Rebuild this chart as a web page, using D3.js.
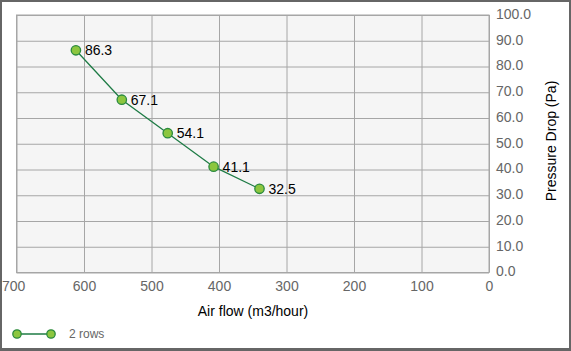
<!DOCTYPE html>
<html><head><meta charset="utf-8">
<script src="https://cdn.jsdelivr.net/npm/d3@7"></script>
<style>body{margin:0;background:#fff}svg{display:block;font-family:Arial,"Liberation Sans",sans-serif}</style>
</head><body><svg id="c" width="571" height="351"></svg>
<script>
const airFlow = [612, 544, 476, 408, 340];
const pressureDrop = [86.3, 67.1, 54.1, 41.1, 32.5];
const seriesName = "2 rows";
const xTicks = [700, 600, 500, 400, 300, 200, 100, 0];
const yTicks = [0, 10, 20, 30, 40, 50, 60, 70, 80, 90, 100];

const svg = d3.select("#c");
const W = 571, H = 351;
const pL = 16.5, pR = 489, pT = 15, pB = 272.5;
const x = d3.scaleLinear().domain([700, 0]).range([pL, pR]);
const y = d3.scaleLinear().domain([0, 100]).range([pB, pT]);

svg.append("rect").attr("x", 0).attr("y", 0).attr("width", W).attr("height", H).attr("fill", "#fff");
svg.append("rect").attr("x", pL).attr("y", pT).attr("width", pR - pL).attr("height", pB - pT).attr("fill", "#f5f5f5");

const gx = svg.append("g").attr("transform", `translate(0,${pB})`)
  .call(d3.axisBottom(x).tickValues(xTicks).tickSize(-(pB - pT)).tickPadding(9).tickFormat(d3.format("d")));
const gy = svg.append("g").attr("transform", `translate(${pR},0)`)
  .call(d3.axisRight(y).tickValues(yTicks).tickSize(-(pR - pL)).tickPadding(7).tickFormat(d3.format(".1f")));
[gx, gy].forEach(g => {
  g.select(".domain").remove();
  g.selectAll(".tick line").attr("stroke", "#a6a6a6").attr("stroke-width", 1);
  g.selectAll(".tick text").attr("fill", "#666").attr("font-size", 14).attr("font-family", "Arial, 'Liberation Sans', sans-serif");
});
gy.selectAll(".tick text").attr("dy", "0.24em");
// first x label kept inside the frame
gx.selectAll(".tick text").filter(d => d === 700).attr("text-anchor", "start").attr("x", 1.5 - pL);
svg.append("rect").attr("x", pL).attr("y", pT).attr("width", pR - pL).attr("height", pB - pT)
  .attr("fill", "none").attr("stroke", "#a6a6a6").attr("stroke-width", 1);

const pts = airFlow.map((v, i) => ({x: v, y: pressureDrop[i]}));
svg.append("path").datum(pts)
  .attr("d", d3.line().x(d => x(d.x)).y(d => y(d.y)))
  .attr("fill", "none").attr("stroke", "#1e7b45").attr("stroke-width", 1.3);
svg.selectAll("circle.pt").data(pts).join("circle").attr("class", "pt")
  .attr("cx", d => x(d.x)).attr("cy", d => y(d.y)).attr("r", 4.7)
  .attr("fill", "#8cc63f").attr("stroke", "#2a8a3e").attr("stroke-width", 1.3);
svg.selectAll("text.lbl").data(pts).join("text").attr("class", "lbl")
  .attr("x", d => x(d.x) + 9).attr("y", d => y(d.y)).attr("dy", "0.36em")
  .attr("font-size", 14).attr("fill", "#000").text(d => d.y.toFixed(1));

svg.append("text").attr("x", 253).attr("y", 316).attr("text-anchor", "middle")
  .attr("font-size", 14).attr("fill", "#000").text("Air flow (m3/hour)");
svg.append("text").attr("transform", `translate(556,141) rotate(-90)`).attr("text-anchor", "middle")
  .attr("font-size", 14).attr("fill", "#000").text("Pressure Drop (Pa)");

// legend
const ly = 334;
svg.append("line").attr("x1", 17).attr("x2", 51).attr("y1", ly).attr("y2", ly).attr("stroke", "#1e7b45").attr("stroke-width", 1.3);
[17, 51].forEach(cx => svg.append("circle").attr("cx", cx).attr("cy", ly).attr("r", 4.2)
  .attr("fill", "#8cc63f").attr("stroke", "#2a8a3e").attr("stroke-width", 1.3));
svg.append("text").attr("x", 69).attr("y", ly).attr("dy", "0.36em").attr("font-size", 12).attr("fill", "#666").text(seriesName);

// outer frame
svg.append("rect").attr("x", 1).attr("y", 1).attr("width", W - 2).attr("height", H - 2.5)
  .attr("fill", "none").attr("stroke", "#666").attr("stroke-width", 2);
svg.append("line").attr("x1", 0).attr("x2", W).attr("y1", H - 1.5).attr("y2", H - 1.5).attr("stroke", "#666").attr("stroke-width", 3);
</script></body></html>
